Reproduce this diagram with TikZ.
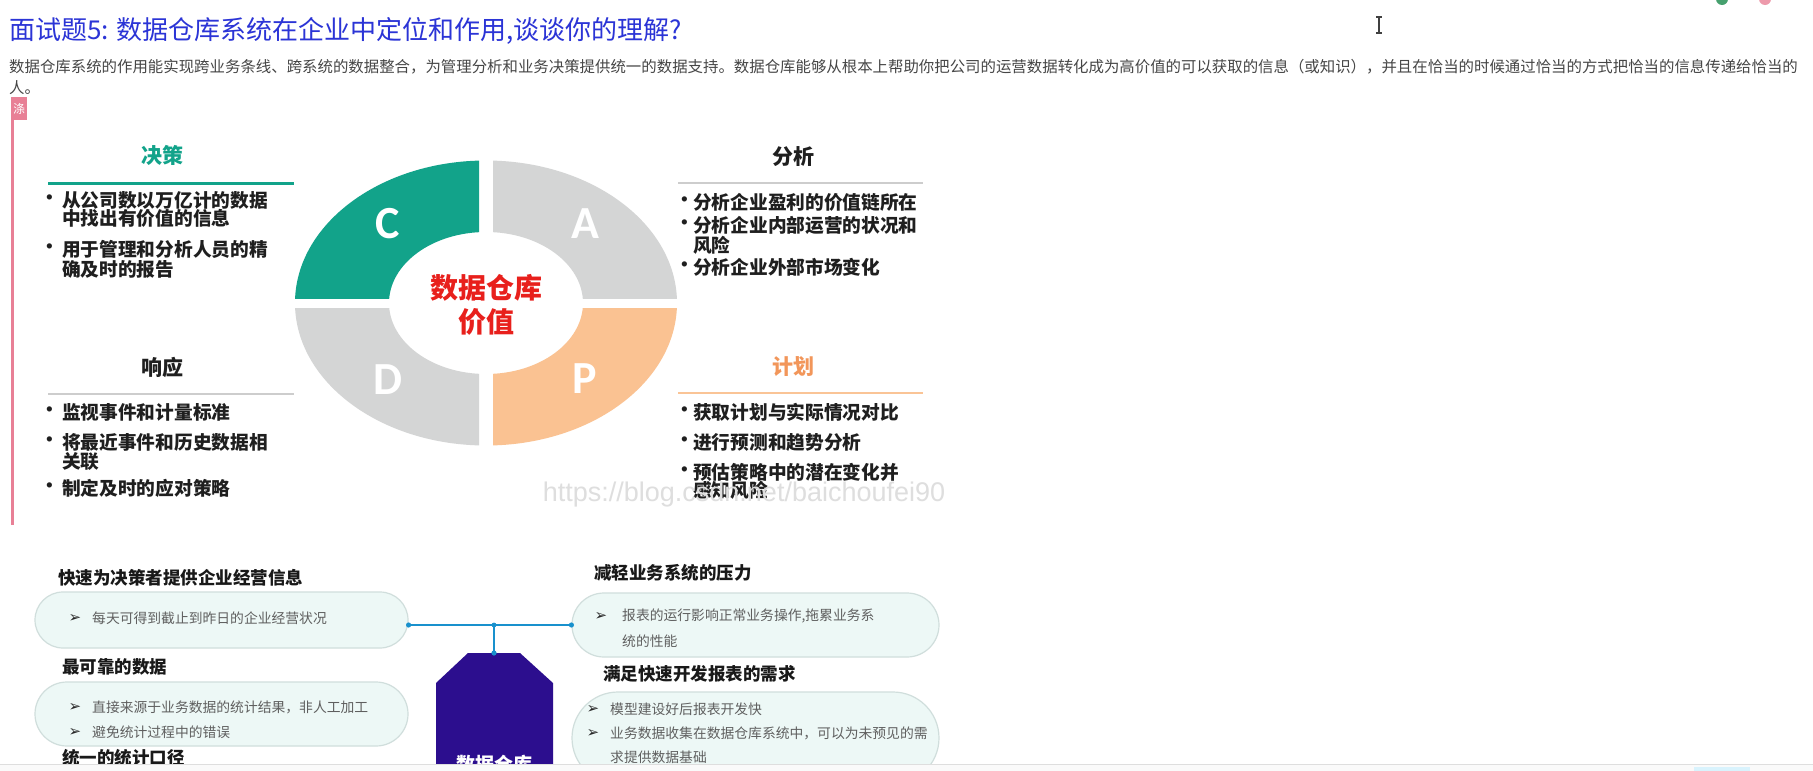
\documentclass[tikz,border=0pt]{standalone}
\usepackage{fontspec}
\setmainfont{Noto Sans CJK SC}
\newfontfamily\calib{Carlito}
\newfontfamily\dvs{DejaVu Sans}
\newfontfamily\libs{Liberation Sans}
\usetikzlibrary{shapes.misc}
\newcommand{\myfs}[1]{\fontsize{#1}{#1}\selectfont}
\definecolor{titleBlue}{RGB}{43,52,214}
\definecolor{paraC}{RGB}{70,70,70}
\definecolor{pinkC}{RGB}{232,128,150}
\definecolor{capC}{RGB}{18,163,138}
\definecolor{capA}{RGB}{212,213,213}
\definecolor{capP}{RGB}{250,194,146}
\definecolor{coreRed}{RGB}{232,32,28}
\definecolor{headOr}{RGB}{242,150,90}
\definecolor{lineOr}{RGB}{250,196,150}
\definecolor{lineGr}{RGB}{205,205,205}
\definecolor{pillFill}{RGB}{237,248,246}
\definecolor{pillLine}{RGB}{208,222,220}
\definecolor{pillText}{RGB}{95,95,95}
\definecolor{connC}{RGB}{25,145,205}
\definecolor{dwC}{RGB}{44,14,142}
\definecolor{wmC}{RGB}{222,222,222}
\definecolor{iconG}{RGB}{70,160,110}
\tikzset{
  txt/.style={inner sep=0pt, anchor=west},
  head/.style={inner sep=0pt, font={\myfs{21}\bfseries}},
  item/.style={txt, font={\myfs{18.7}\bfseries}, text=black!88},
  bul/.style={inner sep=0pt, font={\myfs{18.7}\bfseries}, text=black!88},
  btitle/.style={txt, font={\myfs{17.5}\bfseries}, text=black!90},
  ptxt/.style={txt, font={\myfs{13.8}}, text=pillText},
  parr/.style={inner sep=0pt, font={\dvs\myfs{15}}, text=black!85},
  pill/.style={rounded rectangle, draw=pillLine, fill=pillFill, line width=1.2pt, inner sep=0pt},
  conn/.style={draw=connC, line width=2.4pt},
  letter/.style={inner sep=0pt, text=white, font={\calib\myfs{46}\bfseries}},
}
\begin{document}
\begin{tikzpicture}[x=1pt,y=-1pt]
\fill[white] (0,0) rectangle (1813,771);
\useasboundingbox (0,0) rectangle (1813,771);

% top-right icon remnants and cursor
\fill[iconG] (1722,-1) circle (6pt);
\fill[pinkC!80] (1765,-1) circle (6pt);
\draw[black!75, line width=1.2pt] (1379,17) -- (1379,33)
  (1376,17) -- (1382,17) (1376,33) -- (1382,33);

% title and paragraph
\node[txt, font={\myfs{26}}, text=titleBlue] (title) at (9,31)
  {面试题5: 数据仓库系统在企业中定位和作用,谈谈你的理解?};
\node[txt, font={\myfs{15.42}}, text=paraC] (para1) at (9,67)
  {数据仓库系统的作用能实现跨业务条线、跨系统的数据整合，为管理分析和业务决策提供统一的数据支持。数据仓库能够从根本上帮助你把公司的运营数据转化成为高价值的可以获取的信息（或知识），并且在恰当的时候通过恰当的方式把恰当的信息传递给恰当的};
\node[txt, font={\myfs{15.42}}, text=paraC] (para2) at (9,88) {人。};

% pink side bar
\fill[pinkC] (11,97) rectangle (27,120);
\node[inner sep=0pt, text=white, font={\myfs{12}}] (tag) at (19,108.5) {涤};
\draw[pinkC, line width=2.2pt] (12.5,97) -- (12.5,525);

% CAPD ring
\begin{scope}
  \clip (280,150) rectangle (479,298);
  \fill[capC, even odd rule] (486,303) ellipse [x radius=191, y radius=142.5]
    (486,303) ellipse [x radius=97, y radius=71];
\end{scope}
\begin{scope}
  \clip (493,150) rectangle (700,298);
  \fill[capA, even odd rule] (486,303) ellipse [x radius=191, y radius=142.5]
    (486,303) ellipse [x radius=97, y radius=71];
\end{scope}
\begin{scope}
  \clip (280,308) rectangle (479,460);
  \fill[capA, even odd rule] (486,303) ellipse [x radius=191, y radius=142.5]
    (486,303) ellipse [x radius=97, y radius=71];
\end{scope}
\begin{scope}
  \clip (493,308) rectangle (700,460);
  \fill[capP, even odd rule] (486,303) ellipse [x radius=191, y radius=142.5]
    (486,303) ellipse [x radius=97, y radius=71];
\end{scope}
\node[letter] (lC) at (388,224) {C};
\node[letter] (lA) at (585,224) {A};
\node[letter] (lD) at (388,380) {D};
\node[letter] (lP) at (585,379) {P};
\node[inner sep=0pt, text=coreRed, font={\myfs{28}\bfseries}] (core1) at (486,288) {数据仓库};
\node[inner sep=0pt, text=coreRed, font={\myfs{28}\bfseries}] (core2) at (486,322) {价值};

% left column: 决策
\node[head, text=capC] (hC) at (162,155) {决策};
\draw[capC, line width=3pt] (48,183) -- (294,183);
\node[bul] (bC1) at (50,200) {•};
\node[item] (tC1) at (62,200) {从公司数以万亿计的数据};
\node[item] (tC2) at (62,218) {中找出有价值的信息};
\node[bul] (bC2) at (50,249) {•};
\node[item] (tC3) at (62,249) {用于管理和分析人员的精};
\node[item] (tC4) at (62,269) {确及时的报告};

% left column: 响应
\node[head, text=black!88] (hD) at (162,367) {响应};
\draw[lineGr, line width=2pt] (48,394) -- (294,394);
\node[bul] (bD1) at (50,412) {•};
\node[item] (tD1) at (62,412) {监视事件和计量标准};
\node[bul] (bD2) at (50,442) {•};
\node[item] (tD2) at (62,442) {将最近事件和历史数据相};
\node[item] (tD3) at (62,462) {关联};
\node[bul] (bD3) at (50,488) {•};
\node[item] (tD4) at (62,488) {制定及时的应对策略};

% right column: 分析
\node[head, text=black!88] (hA) at (793,157) {分析};
\draw[lineGr, line width=2pt] (678,183) -- (923,183);
\node[bul] (bA1) at (685,202) {•};
\node[item] (tA1) at (693,202) {分析企业盈利的价值链所在};
\node[bul] (bA2) at (685,225) {•};
\node[item] (tA2) at (693,225) {分析企业内部运营的状况和};
\node[item] (tA3) at (693,245) {风险};
\node[bul] (bA3) at (685,267) {•};
\node[item] (tA4) at (693,267) {分析企业外部市场变化};

% right column: 计划
\node[head, text=headOr] (hP) at (793,367) {计划};
\draw[lineOr, line width=2.5pt] (678,393) -- (923,393);
\node[bul] (bP1) at (685,412) {•};
\node[item] (tP1) at (693,412) {获取计划与实际情况对比};
\node[bul] (bP2) at (685,442) {•};
\node[item] (tP2) at (693,442) {进行预测和趋势分析};
\node[bul] (bP3) at (685,472) {•};
\node[item] (tP3) at (693,472) {预估策略中的潜在变化并};
\node[item] (tP4) at (693,490) {感知风险};

% watermark
\node[inner sep=0pt, text=wmC, font={\libs\myfs{27}}] (wm) at (744,495) {https://blog.csdn.net/baichoufei90};

% bottom section
\begin{scope}
\clip (0,540) rectangle (1813,764);
\node[btitle] (t1) at (58,578) {快速为决策者提供企业经营信息};
\node[pill, minimum width=373pt, minimum height=56pt] (pillA) at (221.5,620) {};
\node[parr] (a1) at (75,618) {➢};
\node[ptxt] (p1) at (92,618) {每天可得到截止到昨日的企业经营状况};

\node[btitle] (t2) at (62,667) {最可靠的数据};
\node[pill, minimum width=373pt, minimum height=64pt] (pillB) at (221.5,714) {};
\node[parr] (a2) at (75,707) {➢};
\node[ptxt] (p2) at (92,707) {直接来源于业务数据的统计结果，非人工加工};
\node[parr] (a3) at (75,732) {➢};
\node[ptxt] (p3) at (92,732) {避免统计过程中的错误};
\node[btitle] (t3) at (62,758) {统一的统计口径};

\node[btitle] (t4) at (594,573) {减轻业务系统的压力};
\node[pill, minimum width=367pt, minimum height=64pt] (pillC) at (755.5,625) {};
\node[parr] (a4) at (601,616) {➢};
\node[ptxt] (p4) at (622,616) {报表的运行影响正常业务操作,拖累业务系};
\node[ptxt] (p5) at (622,641) {统的性能};

\node[btitle] (t5) at (603,674) {满足快速开发报表的需求};
\node[pill, minimum width=367pt, minimum height=92pt] (pillD) at (755.5,738) {};
\node[parr] (a5) at (593,709) {➢};
\node[ptxt] (p6) at (610,709) {模型建设好后报表开发快};
\node[parr] (a6) at (593,733) {➢};
\node[ptxt] (p7) at (610,733) {业务数据收集在数据仓库系统中，可以为未预见的需};
\node[ptxt] (p8) at (610,757) {求提供数据基础};

% data warehouse block
\fill[dwC] (468,653) -- (520,653) -- (553,683) -- (553,780) -- (436,780) -- (436,683) -- cycle;
\coordinate (dwtop) at (494,653);
\node[inner sep=0pt, text=white, font={\myfs{19}\bfseries}] (dwtext) at (494,764) {数据仓库};

% connectors
\coordinate (j) at (494,625);
\draw[conn] (pillA.east |- j) -- (pillC.west |- j);
\draw[conn] (j) -- (dwtop);
\fill[connC] (pillA.east |- j) circle (2.6pt) (pillC.west |- j) circle (2.6pt)
  (j) circle (2.4pt) (dwtop) circle (2.6pt);
\end{scope}

% bottom strip
\fill[black!2] (0,764) rectangle (1813,771);
\draw[black!13, line width=1pt] (0,764) -- (1813,764);
\fill[cyan!15] (1694,767) rectangle (1750,771);
\end{tikzpicture}
\end{document}
